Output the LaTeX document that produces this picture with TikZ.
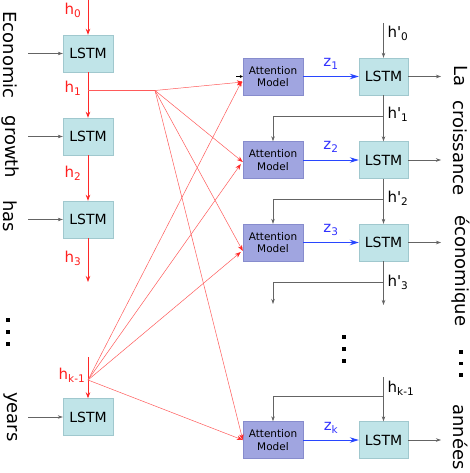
\documentclass[tikz,border=0pt]{standalone}
\usepackage{fontspec}
\setmainfont{DejaVu Sans}[Ligatures=TeXOff]
\usetikzlibrary{arrows.meta}
\definecolor{lstmfill}{RGB}{192,228,232}
\definecolor{lstmdraw}{RGB}{160,200,206}
\definecolor{attfill}{RGB}{160,165,224}
\definecolor{attdraw}{RGB}{135,140,205}
\definecolor{redline}{RGB}{255,90,90}
\definecolor{redarr}{RGB}{255,40,40}
\definecolor{redtext}{RGB}{255,30,30}
\definecolor{greyline}{RGB}{100,100,100}
\definecolor{bluearr}{RGB}{40,70,255}
\definecolor{bluetext}{RGB}{50,50,255}
\newcommand\lsub[1]{\textsubscript{#1}}
\begin{document}
\begin{tikzpicture}[x=1pt,y=-1pt,
  lstm/.style={draw=lstmdraw,fill=lstmfill,minimum width=50pt,minimum height=37pt,inner sep=0pt,font=\fontsize{14}{14}\selectfont},
  att/.style={draw=attdraw,fill=attfill,minimum width=60pt,minimum height=37pt,inner sep=0pt,align=center,font=\fontsize{10.5}{12.5}\selectfont},
  redv/.style={draw=redarr,line width=0.8pt,-{Stealth[length=6pt,width=4.5pt]}},
  redfan/.style={draw=redline,line width=0.5pt,-{Stealth[length=6pt,width=4.5pt,color=redarr]}},
  redplain/.style={draw=redline,line width=0.6pt},
  greyarr/.style={draw=greyline,line width=0.6pt,-{Stealth[length=5pt,width=3.5pt]}},
  bluez/.style={draw=bluearr,line width=0.9pt,-{Stealth[length=9pt,width=5.5pt]}},
  hlab/.style={text=redtext,font=\fontsize{15}{15}\selectfont,inner sep=0pt},
  hplab/.style={text=black,font=\fontsize{15}{15}\selectfont,inner sep=0pt},
  zlab/.style={text=bluetext,font=\fontsize{15}{15}\selectfont,inner sep=0pt},
  word/.style={rotate=-90,font=\fontsize{18}{18}\selectfont,inner sep=0pt},
  dot/.style={fill=black,minimum size=3.2pt,inner sep=0pt}
]
\useasboundingbox (0,0) rectangle (470,473);

% left encoder LSTMs
\node[lstm] (e1) at (88,53.5) {LSTM};
\node[lstm] (e2) at (88,136.5) {LSTM};
\node[lstm] (e3) at (88,219.5) {LSTM};
\node[lstm] (e4) at (88,417) {LSTM};

% attention models
\node[att] (a1) at (273,76.5) {Attention\\Model};
\node[att] (a2) at (273,160) {Attention\\Model};
\node[att] (a3) at (273,242.5) {Attention\\Model};
\node[att] (a4) at (273,440) {Attention\\Model};

% right decoder LSTMs
\node[lstm,minimum width=49pt] (d1) at (383.5,76.5) {LSTM};
\node[lstm,minimum width=49pt] (d2) at (383.5,160) {LSTM};
\node[lstm,minimum width=49pt] (d3) at (383.5,242.5) {LSTM};
\node[lstm,minimum width=49pt] (d4) at (383.5,440) {LSTM};

% left words
\node[word] (w1) at (10.5,55) {Economic};
\node[word] (w2) at (10.5,147) {growth};
\node[word] (w3) at (10.5,216) {has};
\node[dot] (ld1) at (8,320) {};
\node[dot] (ld2) at (8,332) {};
\node[dot] (ld3) at (8,344) {};
\node[word] (w4) at (10.5,417) {years};

% right words
\node[word] (r1) at (460.5,76) {La};
\node[word] (r2) at (460.5,148) {croissance};
\node[word] (r3) at (460.5,271) {économique};
\node[dot] (rd1) at (461,352) {};
\node[dot] (rd2) at (461,363.5) {};
\node[dot] (rd3) at (461,375) {};
\node[word] (r4) at (460.5,437) {années};

% input arrows
\coordinate (i1) at (28,53.5);
\coordinate (i2) at (28,136.5);
\coordinate (i3) at (28,219.5);
\coordinate (i4) at (28,417);
\draw[greyarr] (i1) -- (e1.west);
\draw[greyarr] (i2) -- (e2.west);
\draw[greyarr] (i3) -- (e3.west);
\draw[greyarr] (i4) -- (e4.west);

% red encoder chain
\coordinate (h0top) at (88,0);
\coordinate (h3end) at (88,282);
\coordinate (hktop) at (88,357);
\coordinate (h1pt) at (88,90.5);
\coordinate (f1) at (155,90.5);
\coordinate (fk) at (88,380);
\draw[redv] (h0top) -- (e1.north);
\draw[redv] (e1.south) -- (e2.north);
\draw[redv] (e2.south) -- (e3.north);
\draw[redv] (e3.south) -- (h3end);
\draw[redv] (hktop) -- (e4.north);
\draw[redplain] (h1pt) -- (f1);

\node[hlab] (lh0) at (73,10) {h\lsub{0}};
\node[hlab] (lh1) at (73,88) {h\lsub{1}};
\node[hlab] (lh2) at (73,173) {h\lsub{2}};
\node[hlab] (lh3) at (73,258) {h\lsub{3}};
\node[hlab] (lhk) at (72,375) {h\lsub{k-1}};

% fan lines from h1
\draw[redfan] (f1) -- ([yshift=-5.5pt]a1.west);
\draw[redfan] (f1) -- ([yshift=-2pt]a2.west);
\draw[redfan] (f1) -- ([yshift=-8.5pt]a3.west);
\draw[redfan] (f1) -- ([yshift=0pt]a4.west);
% fan lines from h_{k-1}
\draw[redfan] (fk) -- ([xshift=-1pt,yshift=-4.5pt]a1.west);
\draw[redfan] (fk) -- ([xshift=-2pt,yshift=-4pt]a2.west);
\draw[redfan] (fk) -- ([xshift=-2pt,yshift=-9.5pt]a3.west);
\draw[redfan] (fk) -- ([yshift=0pt]a4.west);

% tiny black tip at first attention
\coordinate (bt) at (236,76.5);
\draw[draw=black,line width=0.6pt,-{Stealth[length=3pt,width=3pt]}] (bt) -- (a1.west);

% z arrows
\draw[bluez] (a1.east) -- (d1.west);
\draw[bluez] (a2.east) -- (d2.west);
\draw[bluez] (a3.east) -- (d3.west);
\draw[bluez] (a4.east) -- (d4.west);
\node[zlab] (z1) at (331,64) {z\lsub{1}};
\node[zlab] (z2) at (331,147) {z\lsub{2}};
\node[zlab] (z3) at (331,230) {z\lsub{3}};
\node[zlab] (zk) at (331,428) {z\lsub{k}};

% output arrows
\coordinate (o1) at (441,76.5);
\coordinate (o2) at (441,160);
\coordinate (o3) at (441,242.5);
\coordinate (o4) at (441,440);
\draw[greyarr] (d1.east) -- (o1);
\draw[greyarr] (d2.east) -- (o2);
\draw[greyarr] (d3.east) -- (o3);
\draw[greyarr] (d4.east) -- (o4);

% decoder hidden chain
\coordinate (hp0) at (383.5,23);
\draw[greyarr] (hp0) -- (d1.north);
\coordinate (b1) at (383.5,116);
\coordinate (b2) at (383.5,199);
\coordinate (b3) at (383.5,282);
\coordinate (bk) at (383.5,396);
\coordinate (hkp) at (383.5,377);
\coordinate (d3end) at (383.5,305);
\coordinate (a3end) at (273,304);
\draw[greyarr] (d1.south) -- (d2.north);
\draw[greyarr] (d2.south) -- (d3.north);
\draw[greyarr] (d3.south) -- (d3end);
\draw[greyarr] (hkp) -- (d4.north);
\draw[greyarr] (b1) -| (a2.north);
\draw[greyarr] (b2) -| (a3.north);
\draw[greyarr] (b3) -| (a3end);
\draw[greyarr] (bk) -| (a4.north);

\node[hplab] (hl0) at (398,33) {h'\lsub{0}};
\node[hplab] (hl1) at (398,114) {h'\lsub{1}};
\node[hplab] (hl2) at (398,198) {h'\lsub{2}};
\node[hplab] (hl3) at (398,282) {h'\lsub{3}};
\node[hplab] (hlk) at (401,388) {h\lsub{k-1}};

% right dots
\node[dot] (md1) at (344,337) {};
\node[dot] (md2) at (344,349) {};
\node[dot] (md3) at (344,361) {};
\end{tikzpicture}
\end{document}
